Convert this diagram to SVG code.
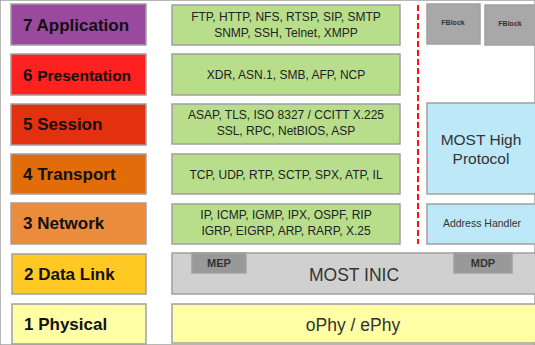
<svg xmlns="http://www.w3.org/2000/svg" width="535" height="345" viewBox="0 0 535 345">
<style>
rect{stroke:#a0a0a0;stroke-width:1.5}
.lbl{font-family:"Liberation Sans",Arial,sans-serif;font-weight:bold;font-size:17px;fill:#111}
.pr{font-family:"Liberation Sans",Arial,sans-serif;font-size:12px;fill:#222;text-anchor:middle}
.g{fill:#b8de8c}
.c{font-family:"Liberation Sans",Arial,sans-serif;fill:#333;text-anchor:middle}
.b{font-weight:bold}
</style>
<rect width="535" height="345" fill="#fff" stroke="none"/>
<g id="layer7"><rect x="11" y="4" width="135" height="41" fill="#9a4a9e"/><text class="lbl" x="23" y="31">7 Application</text></g>
<g id="layer6"><rect x="11" y="54" width="135" height="41" fill="#ff2020"/><text class="lbl" x="23" y="81">6 <tspan font-size="15.5">Presentation</tspan></text></g>
<g id="layer5"><rect x="11" y="104" width="135" height="41" fill="#e3300e"/><text class="lbl" x="23" y="130">5 Session</text></g>
<g id="layer4"><rect x="11" y="154" width="135" height="40" fill="#e36c0a"/><text class="lbl" x="23" y="180">4 Transport</text></g>
<g id="layer3"><rect x="11" y="203" width="135" height="41" fill="#eb8c3c"/><text class="lbl" x="23" y="229">3 Network</text></g>
<g id="layer2"><rect x="12" y="254" width="134" height="40" fill="#ffc822"/><text class="lbl" x="24" y="280">2 Data Link</text></g>
<g id="layer1"><rect x="12" y="304" width="134" height="40" fill="#ffffa5"/><text class="lbl" x="24" y="330">1 Physical</text></g>

<g id="p7"><rect class="g" x="172" y="5" width="228" height="40"/><text class="pr" x="286" y="21">FTP, HTTP, NFS, RTSP, SIP, SMTP</text><text class="pr" x="286" y="37">SNMP, SSH, Telnet, XMPP</text></g>
<g id="p6"><rect class="g" x="172" y="54" width="228" height="41"/><text class="pr" x="286" y="79">XDR, ASN.1, SMB, AFP,  NCP</text></g>
<g id="p5"><rect class="g" x="172" y="104" width="228" height="40"/><text class="pr" x="286" y="119">ASAP, TLS, ISO 8327 / CCITT X.225</text><text class="pr" x="286" y="135">SSL, RPC, NetBIOS, ASP</text></g>
<g id="p4"><rect class="g" x="172" y="154" width="228" height="40"/><text class="pr" x="286" y="179">TCP, UDP, RTP, SCTP, SPX, ATP, IL</text></g>
<g id="p3"><rect class="g" x="172" y="204" width="228" height="40"/><text class="pr" x="286" y="219">IP, ICMP, IGMP, IPX, OSPF, RIP</text><text class="pr" x="286" y="235">IGRP, EIGRP, ARP, RARP, X.25</text></g>

<g id="inic"><rect x="172" y="253" width="370" height="41" fill="#d0d0d0"/><text class="c" x="354" y="281" font-size="17.5">MOST INIC</text></g>
<g id="mep"><rect x="192" y="253" width="54" height="20" fill="#999" stroke="#888"/><text class="c b" x="219" y="267" font-size="11" fill="#222">MEP</text></g>
<g id="mdp"><rect x="454" y="253" width="58" height="20" fill="#999" stroke="#888"/><text class="c b" x="483" y="267" font-size="11" fill="#222">MDP</text></g>
<g id="phy"><rect x="172" y="304" width="370" height="39" fill="#ffffa5"/><text class="c" x="353" y="331" font-size="17.5">oPhy / ePhy</text></g>

<g id="fblock1"><rect x="427" y="4" width="53" height="40" fill="#a8a8a8" stroke="#8a8a8a"/><text class="c b" x="453" y="25" font-size="7">FBlock</text></g>
<g id="fblock2"><rect x="485" y="5" width="55" height="40" fill="#a8a8a8" stroke="#8a8a8a"/><text class="c b" x="510" y="26" font-size="7">FBlock</text></g>
<g id="mosthigh"><rect x="427" y="103" width="113" height="91" fill="#bde8f8"/><text class="c" x="481" y="145" font-size="15.5">MOST High</text><text class="c" x="481" y="164" font-size="15.5">Protocol</text></g>
<g id="addr"><rect x="427" y="204" width="113" height="40" fill="#bde8f8"/><text class="c" x="482" y="227" font-size="10.5">Address  Handler</text></g>

<g id="connectors"><line x1="418" y1="5" x2="418" y2="244" stroke="#ff1010" stroke-width="2" stroke-dasharray="6,3"/></g>
</svg>
